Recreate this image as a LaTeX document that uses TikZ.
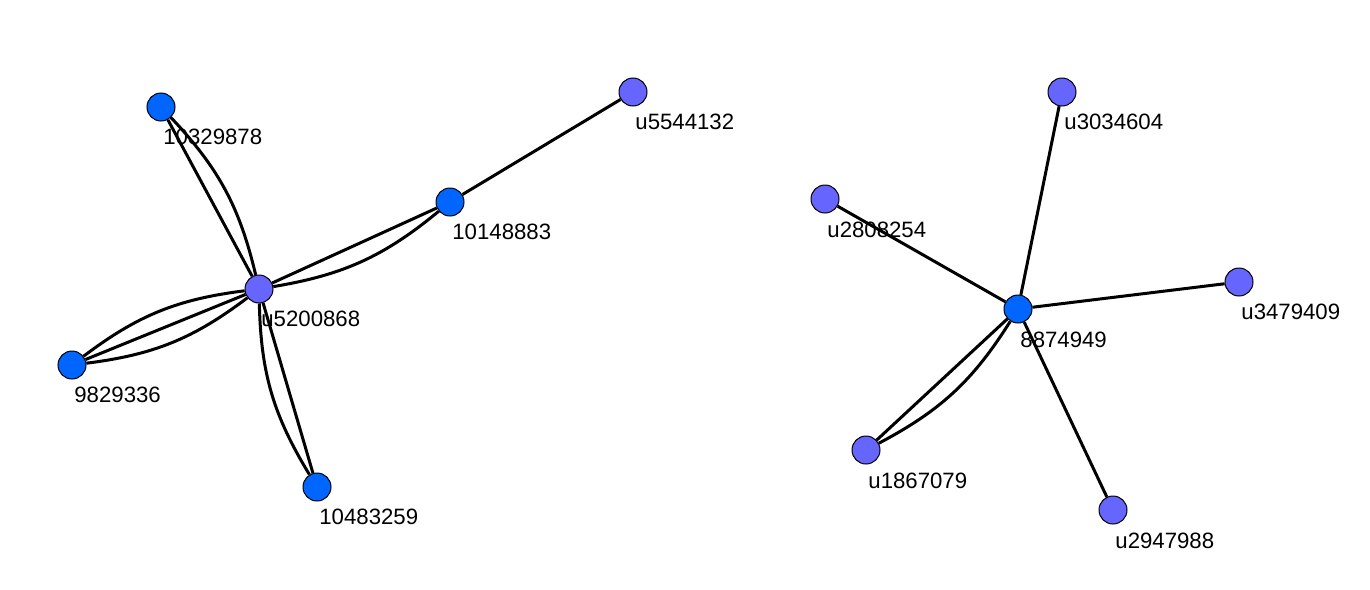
\documentclass[tikz,border=0pt]{standalone}
\usepackage{fontspec}
\setmainfont{Liberation Sans}
\definecolor{nblue}{HTML}{0066FF}
\definecolor{npurple}{HTML}{6666FF}
\pgfdeclarelayer{lab}
\pgfdeclarelayer{edges}
\pgfsetlayers{lab,edges,main}
\tikzset{
  vtx/.style={circle, draw=black, line width=0.5pt, minimum size=14pt, inner sep=0pt},
  vblue/.style={vtx, fill=nblue},
  vpurple/.style={vtx, fill=npurple},
  lbl/.style={anchor=base west, inner sep=0pt, font=\fontsize{11.1}{13}\selectfont},
  edge/.style={line width=1.5pt, black},
}
\begin{document}
\begin{tikzpicture}[x=0.5pt, y=-0.5pt]
\useasboundingbox (0,0) rectangle (1370,589);
% nodes
\node[vpurple] (a) at (259,289) {};
\node[vblue] (b1) at (161,107) {};
\node[vblue] (b2) at (450,202) {};
\node[vpurple] (b3) at (633,92) {};
\node[vblue] (b4) at (72,365) {};
\node[vblue] (b5) at (317,487) {};
\node[vblue] (c) at (1018,309) {};
\node[vpurple] (d1) at (1062,92) {};
\node[vpurple] (d2) at (825,199) {};
\node[vpurple] (d3) at (1239,282) {};
\node[vpurple] (d4) at (866,450) {};
\node[vpurple] (d5) at (1113,510) {};
% labels
\begin{pgfonlayer}{lab}
\node[lbl] (la) at (261,326) {u5200868};
\node[lbl] (lb1) at (163,144) {10329878};
\node[lbl] (lb2) at (452,239) {10148883};
\node[lbl] (lb3) at (635,129) {u5544132};
\node[lbl] (lb4) at (74,402) {9829336};
\node[lbl] (lb5) at (319,524) {10483259};
\node[lbl] (lc) at (1020,347) {8874949};
\node[lbl] (ld1) at (1064,129) {u3034604};
\node[lbl] (ld2) at (827,237) {u2808254};
\node[lbl] (ld3) at (1241,319) {u3479409};
\node[lbl] (ld4) at (868,488) {u1867079};
\node[lbl] (ld5) at (1115,548) {u2947988};
\end{pgfonlayer}
% edges
\begin{pgfonlayer}{edges}
\draw[edge] (a) -- (b1);
\draw[edge] (a) to[bend right=15] (b1);
\draw[edge] (a) -- (b2);
\draw[edge] (a) to[bend right=15] (b2);
\draw[edge] (b2) -- (b3);
\draw[edge] (a) -- (b4);
\draw[edge] (a) to[bend left=15] (b4);
\draw[edge] (a) to[bend right=15] (b4);
\draw[edge] (a) -- (b5);
\draw[edge] (a) to[bend right=15] (b5);
\draw[edge] (c) -- (d1);
\draw[edge] (c) -- (d2);
\draw[edge] (c) -- (d3);
\draw[edge] (c) -- (d4);
\draw[edge] (c) to[bend left=15] (d4);
\draw[edge] (c) -- (d5);
\end{pgfonlayer}
\end{tikzpicture}
\end{document}
